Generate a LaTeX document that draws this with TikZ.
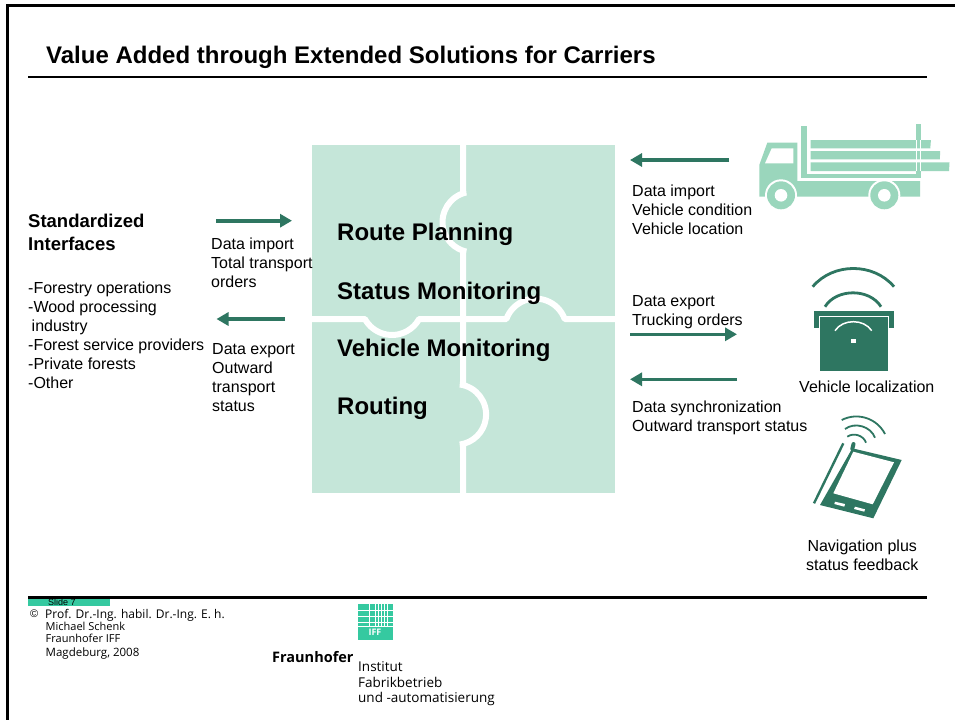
\documentclass[tikz,border=0pt]{standalone}
\usepackage{fontspec}
\setmainfont{Liberation Sans}
\newfontfamily\footfont{Open Sans}
\usetikzlibrary{arrows.meta}
\definecolor{puzzlegreen}{HTML}{C5E6D9}
\definecolor{truckgreen}{HTML}{9AD6BC}
\definecolor{darkgreen}{HTML}{2E7661}
\definecolor{iffgreen}{HTML}{35C9A0}
\tikzset{
  txt/.style={anchor=base west,align=left,inner sep=0pt,font=\fontsize{16}{19}\selectfont},
  puzzletxt/.style={anchor=base west,inner sep=0pt,font=\fontsize{24}{26}\selectfont\bfseries},
  foot/.style={anchor=base west,inner sep=0pt,font=\fontsize{11}{12}\selectfont\footfont},
  inst/.style={anchor=base west,inner sep=0pt,font=\fontsize{13.5}{15}\selectfont\footfont},
  flow/.style={draw=darkgreen,line width=3.6pt,-{Triangle[length=12pt,width=13pt,fill=darkgreen]}},
  cut/.style={draw=white,line width=6pt,line join=bevel}
}
\begin{document}
\begin{tikzpicture}[x=1pt,y=1pt]
  \useasboundingbox (0,0) rectangle (955,-720);
  \fill[white] (0,0) rectangle (955,-720);
  \draw[line width=2.6pt] (955,-5.3) -- (7.3,-5.3) -- (7.3,-720);
  \node[anchor=base west,inner sep=0pt,font=\fontsize{24}{26}\selectfont\bfseries] (title) at (46,-63) {Value Added through Extended Solutions for Carriers};
  \draw[line width=2.4pt] (28,-76.8) -- (927,-76.8);

  \fill[puzzlegreen] (312,-145) rectangle (615,-493);
  \draw[cut] (463,-145) -- (463,-192.5) -- (466,-192.5) arc[start angle=103,end angle=257,radius=30.3]
    -- (463,-251.5) -- (463,-384.5) -- (460,-384.5) arc[start angle=82,end angle=-82,radius=30.3]
    -- (463,-444.5) -- (463,-493);
  \draw[cut] (312,-319) -- (364.9,-319) arc[start angle=209,end angle=331,radius=31]
    -- (506.4,-319) arc[start angle=160,end angle=20,radius=31] -- (615,-319);
  \node[puzzletxt] (route) at (337,-240.5) {Route Planning};
  \node[puzzletxt] (status) at (337,-299) {Status Monitoring};
  \node[puzzletxt] (vehicle) at (337,-356) {Vehicle Monitoring};
  \node[puzzletxt] (routing) at (337,-414) {Routing};

  \node[anchor=base west,align=left,inner sep=0pt,font=\fontsize{18.5}{23.5}\selectfont\bfseries] (std) at (28,-250.7) {Standardized\\Interfaces};
  \node[txt] (forestry) at (28,-388) {-Forestry operations\\-Wood processing\\\hspace*{3.5pt}industry\\-Forest service providers\\-Private forests\\-Other};
  \node[txt] (inleft) at (211,-287) {Data import\\Total transport\\orders};
  \node[txt] (outleft) at (212,-411) {Data export\\Outward\\transport\\status};
  \node[txt] (inright) at (632,-234) {Data import\\Vehicle condition\\Vehicle location};
  \node[txt] (outright) at (632,-325.5) {Data export\\Trucking orders};
  \node[txt] (syncright) at (632,-431.7) {Data synchronization\\Outward transport status};
  \node[txt] (localization) at (799,-392.7) {Vehicle localization};
  \node[txt,align=center] (navigation) at (806,-570) {Navigation plus\\status feedback};

  \coordinate (a1) at (216,-220.7);
  \coordinate (b1) at (292,-220.7);
  \coordinate (a2) at (285,-319);
  \coordinate (b2) at (216.5,-319);
  \coordinate (a3) at (729,-160);
  \coordinate (b3) at (630,-160);
  \coordinate (a4) at (630,-334.3);
  \coordinate (b4) at (737,-334.3);
  \coordinate (a5) at (737,-379.3);
  \coordinate (b5) at (630,-379.3);
  \path
    (a1) edge[flow] (b1)
    (a2) edge[flow] (b2)
    (a3) edge[flow] (b3)
    (a4) edge[flow] (b4)
    (a5) edge[flow] (b5);

  \fill[truckgreen] (759.3,-196.7) -- (759.3,-165) -- (767.3,-142.7) -- (797.3,-142.7) -- (797.3,-181) -- (920,-181) -- (920,-196.7) -- cycle;
  \fill[white] (765,-163.3) -- (771.7,-148.3) -- (793.3,-148.3) -- (793.3,-163.3) -- cycle;
  \foreach \wx in {781,884.3} {
    \fill[white] (\wx,-195.3) circle (16);
    \fill[truckgreen] (\wx,-195.3) circle (14);
    \fill[white] (\wx,-195.3) circle (6.3);
  }
  \fill[truckgreen] (801,-126) rectangle (806.7,-178);
  \fill[truckgreen] (801,-174) rectangle (920.7,-178);
  \fill[truckgreen] (916,-124) rectangle (920.7,-140);
  \fill[truckgreen] (916,-171) rectangle (920.7,-178);
  \fill[truckgreen] (810.7,-140) -- (930.9,-140) -- (930.3,-148.3) -- (810.7,-148.3) -- cycle;
  \fill[truckgreen] (810.7,-151) -- (940.2,-151) -- (939.8,-159.3) -- (810.7,-159.3) -- cycle;
  \fill[truckgreen] (810.7,-162.3) -- (949.5,-162.3) -- (949,-171) -- (810.7,-171) -- cycle;
  \draw[white,line width=0.6pt] (916,-140) -- (916,-171) (920.7,-140) -- (920.7,-171);

  \draw[darkgreen,line width=2.8pt] (812.7,-286.7) to[bend left=50] (894,-286.7);
  \draw[darkgreen,line width=2.8pt] (825,-306.7) to[bend left=58] (881,-306.7);
  \fill[darkgreen] (814,-311) rectangle (894,-328.3);
  \fill[white] (819,-316) rectangle (889,-329);
  \fill[darkgreen] (820,-317) rectangle (888,-370.7);
  \draw[white,line width=1.5pt] (835,-330.7) to[bend left=57] (871.7,-330.7);
  \fill[white] (851,-339) rectangle (855.7,-342.7);

  \draw[darkgreen,line width=1.8pt] (841.7,-420) to[bend left=45] (885,-434);
  \draw[darkgreen,line width=1.8pt] (845,-429) to[bend left=53] (875,-437.7);
  \draw[darkgreen,line width=1.8pt] (847.3,-436.7) to[bend left=54] (866,-442.7);
  \draw[darkgreen,line width=2.4pt] (843.3,-443.3) -- (814,-503.3);
  \draw[darkgreen,line width=4pt,line cap=round] (852.3,-449) -- (853.5,-444);
  \fill[darkgreen] (852.3,-448.3) -- (901.7,-460) -- (873.3,-518.3) -- (820,-505) -- cycle;
  \fill[white] (853.3,-451.7) -- (894,-462.3) -- (872.7,-504.3) -- (833.3,-493.3) -- cycle;
  \fill[white] (835,-501.7) -- (845,-504) -- (844.3,-506.7) -- (834.3,-504) -- cycle;
  \fill[white] (855,-506.7) -- (865,-509.3) -- (864.3,-511.7) -- (854,-509) -- cycle;

  \fill[iffgreen] (28,-599) rectangle (110,-606);
  \node[anchor=base west,inner sep=0pt,font=\fontsize{9}{10}\selectfont] (slide) at (48,-605) {Slide 7};
  \draw[line width=3pt] (28,-597.5) -- (927,-597.5);
  \node[anchor=base west,inner sep=0pt,font=\fontsize{11}{12}\selectfont] (copy) at (30,-617) {\textcopyright};
  \node[foot,font=\fontsize{12}{12}\selectfont\footfont] (prof) at (45,-618) {Prof. Dr.-Ing. habil. Dr.-Ing. E. h.};
  \node[foot] (schenk) at (45.5,-630) {Michael Schenk};
  \node[foot] (iff) at (45.5,-642) {Fraunhofer IFF};
  \node[foot,font=\fontsize{11.5}{12}\selectfont\footfont] (city) at (45.5,-656) {Magdeburg, 2008};

  \fill[iffgreen] (357.5,-604) rectangle (392.5,-639.5);
  \foreach \gy in {-610,-616,-622,-626} \draw[white,line width=0.3pt] (357.5,\gy) -- (392.5,\gy);
  \foreach \gx in {369,375,378,381,384,387} \draw[white,line width=0.3pt] (\gx,-604) -- (\gx,-626);
  \node[inner sep=0pt,text=white,font=\fontsize{9}{10}\selectfont\bfseries\footfont] (logo) at (375,-632.5) {IFF};
  \node[anchor=base west,inner sep=0pt,font=\fontsize{14.5}{18}\selectfont\bfseries\footfont] (fraunhofer) at (272,-662) {Fraunhofer};
  \node[inst] (institut) at (358,-671) {Institut};
  \node[inst] (fabrik) at (358,-687) {Fabrikbetrieb};
  \node[inst] (auto) at (358,-702) {und -automatisierung};
\end{tikzpicture}
\end{document}
